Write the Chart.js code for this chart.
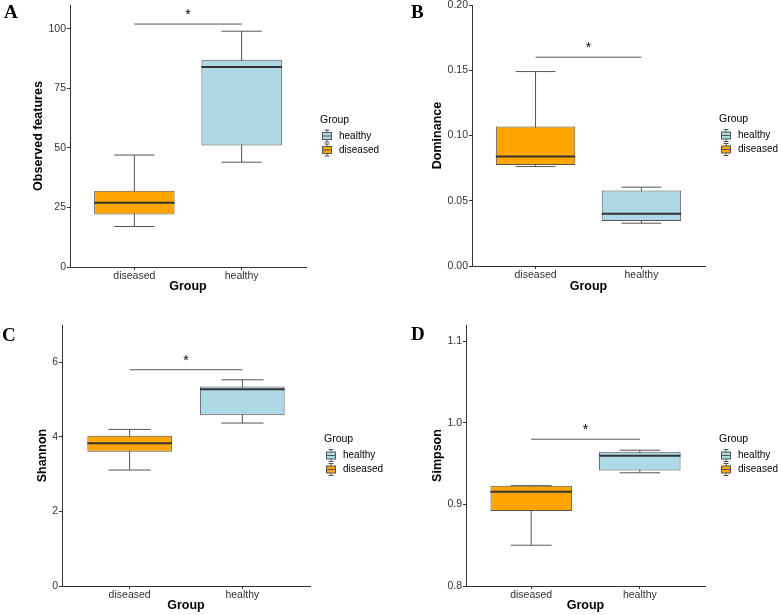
<!DOCTYPE html>
<html>
<head>
<meta charset="utf-8">
<script src="https://cdn.jsdelivr.net/npm/chart.js@4.4.1/dist/chart.umd.min.js"></script>
<style>
  body { margin: 0; background: #fff; }
  #wrap { position: relative; width: 781px; height: 615px; }
  canvas { position: absolute; }
</style>
</head>
<body>
<div id="wrap">
  <canvas id="panelA" width="390" height="300" style="left:0;top:0"></canvas>
  <canvas id="panelB" width="391" height="300" style="left:390px;top:0"></canvas>
  <canvas id="panelC" width="390" height="315" style="left:0;top:300px"></canvas>
  <canvas id="panelD" width="391" height="315" style="left:390px;top:300px"></canvas>
</div>
<script>
const groups = ["diseased", "healthy"];
const legendOrder = ["healthy", "diseased"];

// [lower whisker, Q1, median, Q3, upper whisker]
const observedDiseased = [17, 22, 27, 32, 47];
const observedHealthy = [44, 51, 84, 87, 99];
const dominanceDiseased = [0.0762, 0.0773, 0.0839, 0.1069, 0.149];
const dominanceHealthy = [0.0328, 0.0345, 0.0401, 0.0578, 0.0604];
const shannonDiseased = [3.11, 3.60, 3.83, 4.03, 4.20];
const shannonHealthy = [4.37, 4.58, 5.28, 5.35, 5.53];
const simpsonDiseased = [0.850, 0.892, 0.9155, 0.9229, 0.923];
const simpsonHealthy = [0.9388, 0.9416, 0.9596, 0.9645, 0.9665];

const observedTicks = [0, 25, 50, 75, 100];
const dominanceTicks = [0, 0.05, 0.10, 0.15, 0.20];
const shannonTicks = [0, 2, 4, 6];
const simpsonTicks = [0.8, 0.9, 1.0, 1.1];

// height of the significance bar in each panel
const observedSig = 102;
const dominanceSig = 0.16;
const shannonSig = 5.8;
const simpsonSig = 0.98;

const fillColors = { diseased: "#FFA500", healthy: "#ADD8E6" };
const lineColor = "#555";
const axisColor = "#333";
const SANS = "'Liberation Sans', Arial, Helvetica, sans-serif";
const tickFont = { family: SANS, size: 10.5 };
const titleFont = { family: SANS, size: 12.5, weight: "bold" };
const CAP = 0.1875; // half width of whisker caps, in x units

function hline(ctx, x1, x2, y) {
  ctx.beginPath(); ctx.moveTo(x1, y); ctx.lineTo(x2, y); ctx.stroke();
}
function vline(ctx, x, y1, y2) {
  ctx.beginPath(); ctx.moveTo(x, y1); ctx.lineTo(x, y2); ctx.stroke();
}

const boxplotPlugin = {
  id: "boxplot",
  beforeDatasetsDraw(chart, args, opts) {
    const { ctx, scales: { x, y } } = chart;
    ctx.save();
    ctx.strokeStyle = lineColor;
    ctx.lineWidth = 1;
    opts.stats.forEach((s, i) => {
      const cx = x.getPixelForValue(i + 1);
      const l = x.getPixelForValue(i + 1 - CAP), r = x.getPixelForValue(i + 1 + CAP);
      vline(ctx, cx, y.getPixelForValue(s[0]), y.getPixelForValue(s[4]));
      hline(ctx, l, r, y.getPixelForValue(s[0]));
      hline(ctx, l, r, y.getPixelForValue(s[4]));
    });
    ctx.restore();
  },
  afterDatasetsDraw(chart, args, opts) {
    const { ctx, scales: { x, y } } = chart;
    const bars = chart.getDatasetMeta(0).data;
    ctx.save();
    // medians
    ctx.strokeStyle = axisColor;
    ctx.lineWidth = 2;
    opts.stats.forEach((s, i) => {
      const b = bars[i];
      hline(ctx, b.x - b.width / 2, b.x + b.width / 2, y.getPixelForValue(s[2]));
    });
    // significance bar
    ctx.lineWidth = 1;
    ctx.strokeStyle = lineColor;
    const sy = y.getPixelForValue(opts.sig);
    const x1 = x.getPixelForValue(1), x2 = x.getPixelForValue(2);
    hline(ctx, x1, x2, sy);
    ctx.fillStyle = "#000";
    ctx.font = "14px " + SANS;
    ctx.textAlign = "center";
    ctx.textBaseline = "middle";
    ctx.fillText("*", (x1 + x2) / 2, sy - 9);
    ctx.restore();
  },
  afterDraw(chart, args, opts) {
    const { ctx, chartArea: a } = chart;
    ctx.save();
    // legend
    const lx = a.right + 14;
    const cy = (a.top + a.bottom) / 2;
    ctx.fillStyle = "#000";
    ctx.font = "10.5px " + SANS;
    ctx.textAlign = "left";
    ctx.textBaseline = "middle";
    ctx.fillText("Group", lx, cy - 16);
    legendOrder.forEach((g, i) => {
      const ky = cy + i * 14;
      ctx.strokeStyle = lineColor;
      ctx.lineWidth = 1;
      vline(ctx, lx + 7, ky - 6, ky + 6);
      hline(ctx, lx + 4.5, lx + 9.5, ky - 6);
      hline(ctx, lx + 4.5, lx + 9.5, ky + 6);
      ctx.fillStyle = fillColors[g];
      ctx.fillRect(lx + 2, ky - 3.5, 10, 7);
      ctx.strokeRect(lx + 2.5, ky - 3.5, 9, 7);
      hline(ctx, lx + 2.5, lx + 11.5, ky);
      ctx.fillStyle = "#000";
      ctx.font = "10px " + SANS;
      ctx.fillText(g, lx + 19, ky);
    });
    // panel letter
    ctx.font = "bold 19px 'Liberation Serif', 'Times New Roman', serif";
    ctx.textBaseline = "alphabetic";
    ctx.fillText(opts.letter, opts.letterX, opts.letterY);
    ctx.restore();
  }
};

function makePanel(id, p) {
  const canvas = document.getElementById(id);
  const W = canvas.width, H = canvas.height, a = p.area;
  const axisGrid = { drawOnChartArea: false, offset: false, tickLength: 3, color: axisColor, lineWidth: 1 };
  return new Chart(canvas, {
    type: "bar",
    data: {
      datasets: [{
        data: p.stats.map((s, i) => ({ x: i + 1, y: [s[1], s[3]] })),
        backgroundColor: groups.map(g => fillColors[g]),
        borderColor: lineColor,
        borderWidth: 1,
        borderSkipped: false,
        barPercentage: 0.75,
        categoryPercentage: 1
      }]
    },
    options: {
      responsive: false,
      animation: false,
      layout: { padding: { left: 0, top: a.top, right: W - a.right, bottom: 0 } },
      plugins: {
        legend: { display: false },
        tooltip: { enabled: false },
        boxplot: { stats: p.stats, sig: p.sig, letter: p.letter, letterX: p.letterX, letterY: p.letterY }
      },
      scales: {
        x: {
          type: "linear",
          offset: false,
          min: 0.4,
          max: 2.6,
          afterBuildTicks: s => { s.ticks = groups.map((g, i) => ({ value: i + 1 })); },
          afterFit: s => { s.height = H - a.bottom; s.paddingLeft = 0; s.paddingRight = 0; },
          ticks: { callback: v => groups[v - 1], font: tickFont, color: axisColor, padding: 0, maxRotation: 0 },
          grid: axisGrid,
          border: { color: axisColor, width: 1 },
          title: { display: true, text: "Group", font: titleFont, color: "#000", padding: { top: 0, bottom: p.xTitleBottom } }
        },
        y: {
          min: p.min,
          max: p.max,
          afterBuildTicks: s => { s.ticks = p.ticks.map(v => ({ value: v })); },
          afterFit: s => { s.width = a.left; s.paddingTop = 0; s.paddingBottom = 0; },
          ticks: { callback: v => v.toFixed(p.digits), font: tickFont, color: axisColor, padding: 1 },
          grid: axisGrid,
          border: { color: axisColor, width: 1 },
          title: { display: true, text: p.title, font: titleFont, color: "#000", padding: { top: p.yTitleX - 7.5, bottom: 0 } }
        }
      }
    },
    plugins: [boxplotPlugin]
  });
}

makePanel("panelA", {
  stats: [observedDiseased, observedHealthy], ticks: observedTicks, sig: observedSig,
  min: 0, max: 110, digits: 0, title: "Observed features",
  area: { left: 70, top: 5, right: 306, bottom: 267 }, yTitleX: 39, xTitleBottom: 6,
  letter: "A", letterX: 4, letterY: 18
});
makePanel("panelB", {
  stats: [dominanceDiseased, dominanceHealthy], ticks: dominanceTicks, sig: dominanceSig,
  min: 0, max: 0.2, digits: 2, title: "Dominance",
  area: { left: 82, top: 5, right: 315, bottom: 266 }, yTitleX: 48, xTitleBottom: 6,
  letter: "B", letterX: 21, letterY: 18
});
makePanel("panelC", {
  stats: [shannonDiseased, shannonHealthy], ticks: shannonTicks, sig: shannonSig,
  min: 0, max: 7, digits: 0, title: "Shannon",
  area: { left: 62, top: 25, right: 310, bottom: 286 }, yTitleX: 43, xTitleBottom: 1.5,
  letter: "C", letterX: 2, letterY: 41
});
makePanel("panelD", {
  stats: [simpsonDiseased, simpsonHealthy], ticks: simpsonTicks, sig: simpsonSig,
  min: 0.8, max: 1.12, digits: 1, title: "Simpson",
  area: { left: 76, top: 25, right: 315, bottom: 286 }, yTitleX: 48, xTitleBottom: 1.5,
  letter: "D", letterX: 21, letterY: 40
});
</script>
</body>
</html>
